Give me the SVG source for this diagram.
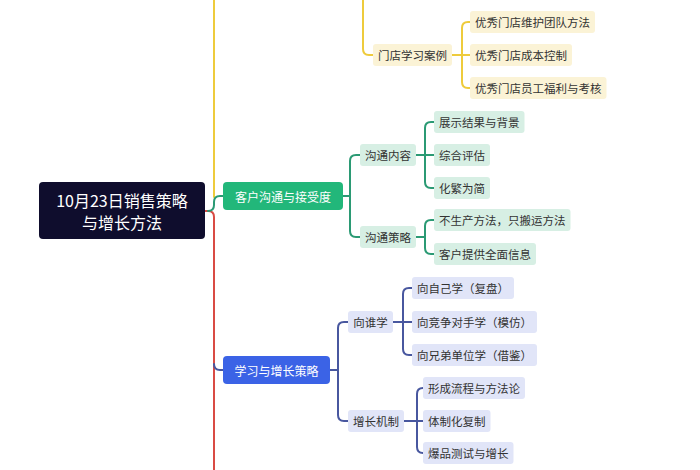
<svg xmlns="http://www.w3.org/2000/svg" width="700" height="470" viewBox="0 0 700 470">
<style>
text{font-family:"Noto Sans CJK SC","Noto Sans",sans-serif;dominant-baseline:central;text-anchor:middle}
.leaf{font-size:11.5px;fill:#333}
.main{font-size:12px;fill:#fff}
.root{font-size:16px;fill:#fff}
.c{fill:none;stroke-width:2;stroke-linecap:round}
.cy{stroke:#eecb3c}.cr{stroke:#d94b44}.cg{stroke:#2b9a74}.cb{stroke:#48579f}
.by{fill:#fbf3d6}.bg{fill:#d7efe4}.bb{fill:#e1e5f8}
</style>
<rect width="700" height="470" fill="#fff"/>
<g id="connectors">
<path class="c cy" d="M214,0 V197"/>
<path class="c cr" d="M205,211 H208 Q214,211 214,217 V470"/>
<path class="c cg" d="M208,211 Q214,211 214,205 V202 Q214,196 220,196 H223"/>
<path class="c cb" d="M214,364 Q214,370 220,370 H223"/>
<path class="c cy" d="M363,0 V49 Q363,55 369,55 H373"/>
<path class="c cy" d="M450,55 H470 M470,22 H468 Q462,22 462,28 V82 Q462,88 468,88 H470"/>
<path class="c cg" d="M343,196 H350 M360,155 H356 Q350,155 350,161 V231 Q350,237 356,237 H360"/>
<path class="c cg" d="M416,155 H434 M434,122 H431 Q425,122 425,128 V182 Q425,188 431,188 H434"/>
<path class="c cg" d="M416,237 H425 M434,220 H431 Q425,220 425,226 V248 Q425,254 431,254 H434"/>
<path class="c cb" d="M330,370 H338 M348,322 H344 Q338,322 338,328 V415 Q338,421 344,421 H348"/>
<path class="c cb" d="M393,322 H412 M412,288 H409 Q403,288 403,294 V349 Q403,355 409,355 H412"/>
<path class="c cb" d="M404,421 H423 M423,388 Q417,388 417,394 V447 Q417,453 423,453"/>
</g>
<g id="root"><rect x="39" y="182" width="166" height="57" rx="4" fill="#0f0d2d"/><text class="root" x="122" y="200">10月23日销售策略</text><text class="root" x="122" y="222">与增长方法</text></g>
<g id="n-kehu"><rect x="223" y="182" width="120" height="28" rx="4" fill="#22b77a"/><text class="main" x="283" y="196">客户沟通与接受度</text></g>
<g id="n-xuexi"><rect x="223" y="356" width="107" height="28" rx="4" fill="#3b63e6"/><text class="main" x="276.5" y="370">学习与增长策略</text></g>
<g id="n-mendian"><rect class="by" x="373" y="44" width="79" height="22" rx="3"/><text class="leaf" x="412.5" y="55">门店学习案例</text></g>
<g id="n-y1"><rect class="by" x="470" y="11" width="125" height="22" rx="3"/><text class="leaf" x="532.5" y="22">优秀门店维护团队方法</text></g>
<g id="n-y2"><rect class="by" x="470" y="44" width="102" height="22" rx="3"/><text class="leaf" x="521" y="55">优秀门店成本控制</text></g>
<g id="n-y3"><rect class="by" x="470" y="77" width="136.5" height="22" rx="3"/><text class="leaf" x="538.25" y="88">优秀门店员工福利与考核</text></g>
<g id="n-goutongneirong"><rect class="bg" x="360" y="144" width="56" height="22" rx="3"/><text class="leaf" x="388" y="155">沟通内容</text></g>
<g id="n-g1"><rect class="bg" x="434" y="111" width="90.5" height="22" rx="3"/><text class="leaf" x="479.25" y="122">展示结果与背景</text></g>
<g id="n-g2"><rect class="bg" x="434" y="144" width="56" height="22" rx="3"/><text class="leaf" x="462" y="155">综合评估</text></g>
<g id="n-g3"><rect class="bg" x="434" y="177" width="56" height="22" rx="3"/><text class="leaf" x="462" y="188">化繁为简</text></g>
<g id="n-goutongcelue"><rect class="bg" x="360" y="226" width="56" height="22" rx="3"/><text class="leaf" x="388" y="237">沟通策略</text></g>
<g id="n-g4"><rect class="bg" x="434" y="209" width="136.5" height="22" rx="3"/><text class="leaf" x="502.25" y="220">不生产方法，只搬运方法</text></g>
<g id="n-g5"><rect class="bg" x="434" y="243" width="102" height="22" rx="3"/><text class="leaf" x="485" y="254">客户提供全面信息</text></g>
<g id="n-xiangshuixue"><rect class="bb" x="348" y="311" width="45" height="22" rx="3"/><text class="leaf" x="370.5" y="322">向谁学</text></g>
<g id="n-b1"><rect class="bb" x="412" y="277" width="102" height="22" rx="3"/><text class="leaf" x="463" y="288">向自己学（复盘）</text></g>
<g id="n-b2"><rect class="bb" x="412" y="311" width="125" height="22" rx="3"/><text class="leaf" x="474.5" y="322">向竞争对手学（模仿）</text></g>
<g id="n-b3"><rect class="bb" x="412" y="344" width="125" height="22" rx="3"/><text class="leaf" x="474.5" y="355">向兄弟单位学（借鉴）</text></g>
<g id="n-zengzhang"><rect class="bb" x="348" y="410" width="56" height="22" rx="3"/><text class="leaf" x="376" y="421">增长机制</text></g>
<g id="n-b4"><rect class="bb" x="423" y="377" width="102" height="22" rx="3"/><text class="leaf" x="474" y="388">形成流程与方法论</text></g>
<g id="n-b5"><rect class="bb" x="423" y="410" width="67.5" height="22" rx="3"/><text class="leaf" x="456.75" y="421">体制化复制</text></g>
<g id="n-b6"><rect class="bb" x="423" y="442" width="90.5" height="22" rx="3"/><text class="leaf" x="468.25" y="453">爆品测试与增长</text></g>
</svg>
